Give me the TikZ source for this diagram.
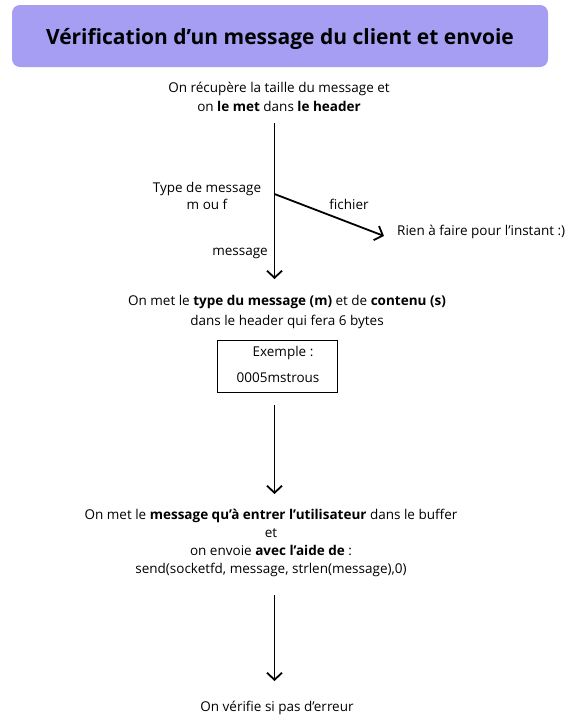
\documentclass[tikz,border=0pt]{standalone}
\usepackage{fontspec}
\setmainfont{Open Sans}
\usetikzlibrary{arrows.meta}
\definecolor{titlefill}{HTML}{A59EF2}
\tikzset{
  x=1pt,y=1pt,
  txt/.style={inner sep=0pt,font=\fontsize{13.5}{19}\selectfont,align=center},
  flow/.style={line width=1.8pt,-{Straight Barb[length=7pt,width=15pt,line width=1.8pt]}},
}
\begin{document}
\begin{tikzpicture}
\useasboundingbox (0,0) rectangle (575,-726);
% title
\node[draw=none,fill=titlefill,rounded corners=8pt,minimum width=536pt,minimum height=62pt,inner sep=0pt] (title) at (280,-36) {};
\node[inner sep=0pt,font=\fontsize{21}{26}\selectfont\bfseries] (ttl) at (280,-39) {Vérification d’un message du client et envoie};
% texts
\node[txt] (t1) at (279,-96.5) {On récupère la taille du message et\\on \textbf{le met} dans \textbf{le header}};
\node[txt,font=\fontsize{13.5}{20}\selectfont] (t2) at (287,-312) {On met le \textbf{type du message (m)} et de \textbf{contenu (s)}\\dans le header qui fera 6 bytes};
\node[draw,line width=1pt,minimum width=120pt,minimum height=52pt,inner sep=0pt] (ex) at (277,-366) {};
\node[txt] (ex1) at (283,-353) {Exemple :};
\node[txt] (ex2) at (278,-378) {0005mstrous};
\node[txt,font=\fontsize{13.5}{18}\selectfont] (t3) at (271,-543) {On met le \textbf{message qu’à entrer l’utilisateur} dans le buffer\\et\\on envoie \textbf{avec l’aide de} :\\send(socketfd, message, strlen(message),0)};
\node[txt] (t4) at (277,-708) {On vérifie si pas d’erreur};
% branch labels
\node[txt,anchor=west] (rien) at (397,-232) {Rien à faire pour l’instant :)};
\node[txt,font=\fontsize{13.5}{17}\selectfont] (type) at (207,-195.5) {Type de message\\m ou f};
\node[txt] (fich) at (349,-204) {fichier};
\node[txt,anchor=east] (msg) at (268,-253) {message};
% connector points
\coordinate (a1s) at (274.5,-123);
\coordinate (a1e) at (274.5,-279);
\coordinate (br) at (274.5,-194);
\coordinate (fe) at (384,-236);
\coordinate (a2s) at (274.5,-405);
\coordinate (a2e) at (274.5,-494);
\coordinate (a3s) at (274.5,-595);
\coordinate (a3e) at (274.5,-681);
% arrows
\draw[flow] (a1s) -- (a1e);
\draw[flow] (br) -- (fe);
\draw[flow] (a2s) -- (a2e);
\draw[flow] (a3s) -- (a3e);
\end{tikzpicture}
\end{document}
